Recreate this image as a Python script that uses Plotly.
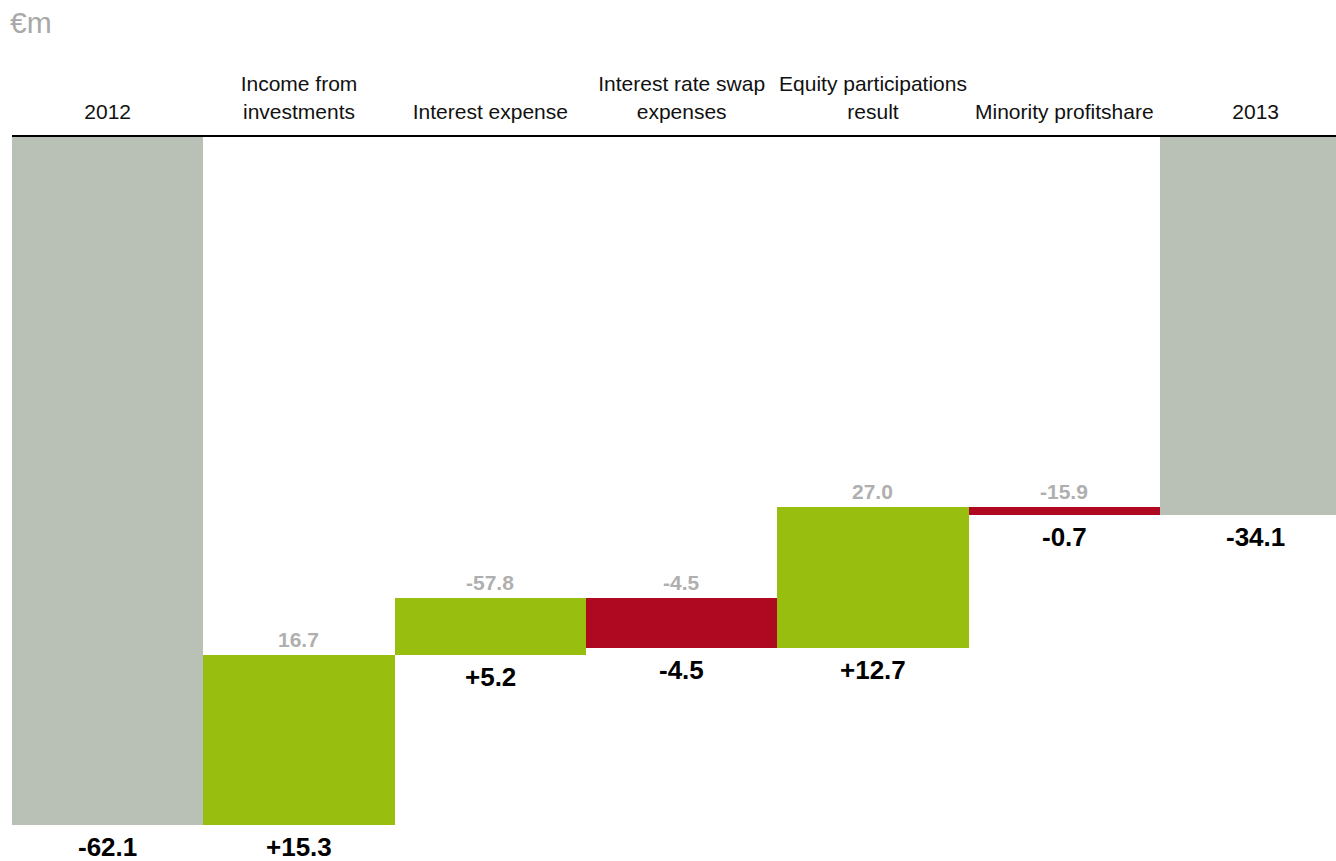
import plotly.graph_objects as go

# Waterfall of the financial result, 2012 -> 2013 (EUR million)
categories = [
    "2012",
    "Income from<br>investments",
    "Interest expense",
    "Interest rate swap<br>expenses",
    "Equity participations<br>result",
    "Minority profitshare",
    "2013",
]
kinds = ["total", "delta", "delta", "delta", "delta", "delta", "total"]
values = [-62.1, 15.3, 5.2, -4.5, 12.7, -0.7, -34.1]
value_labels = ["-62.1", "+15.3", "+5.2", "-4.5", "+12.7", "-0.7", "-34.1"]
# comparative figures shown in grey above the change bars
prior_values = [None, 16.7, -57.8, -4.5, 27.0, -15.9, None]

GREY = "#B9C1B6"
GREEN = "#98BF0F"
RED = "#AF0921"
FONT = "Liberation Sans, Arial, sans-serif"

# running bases for the floating bars
bases, heights, colors = [], [], []
running = 0.0
for kind, v in zip(kinds, values):
    if kind == "total":
        bases.append(0.0)
        heights.append(v)
        colors.append(GREY)
        running = v
    else:
        bases.append(running)
        heights.append(v)
        colors.append(GREEN if v > 0 else RED)
        running = running + v

x_idx = list(range(len(categories)))

fig = go.Figure(
    go.Bar(
        x=x_idx,
        y=heights,
        base=bases,
        width=1.0,
        marker=dict(color=colors, line=dict(width=0)),
        hoverinfo="skip",
    )
)

annotations = []
for i, (b, h, lab, pv) in enumerate(zip(bases, heights, value_labels, prior_values)):
    bottom = min(b, b + h)
    top = max(b, b + h)
    annotations.append(dict(
        x=i, y=bottom, xref="x", yref="y", text=f"<b>{lab}</b>",
        showarrow=False, yanchor="top", yshift=-5,
        font=dict(family=FONT, size=26, color="#000000"),
    ))
    if pv is not None:
        annotations.append(dict(
            x=i, y=top, xref="x", yref="y", text=f"<b>{pv:.1f}</b>",
            showarrow=False, yanchor="bottom", yshift=2,
            font=dict(family=FONT, size=21, color="#AFAFAF"),
        ))

annotations.append(dict(
    x=0, y=1, xref="paper", yref="paper", text="€m", showarrow=False,
    xanchor="left", yanchor="middle", xshift=-4, yshift=115,
    font=dict(family=FONT, size=30, color="#A8A8A8"),
))

fig.update_layout(
    width=1336,
    height=861,
    margin=dict(l=12, r=0, t=137, b=0),
    paper_bgcolor="white",
    plot_bgcolor="white",
    showlegend=False,
    bargap=0,
    annotations=annotations,
    font=dict(family=FONT, color="#111111"),
    xaxis=dict(
        side="top",
        tickmode="array",
        tickvals=x_idx,
        ticktext=categories,
        range=[-0.5, 6.42],
        showline=True,
        linecolor="#000000",
        linewidth=2,
        ticks="",
        ticklabelstandoff=8,
        showgrid=False,
        zeroline=False,
        tickfont=dict(size=21, color="#111111"),
        fixedrange=True,
    ),
    yaxis=dict(
        range=[-65.35, 0],
        showticklabels=False,
        showgrid=False,
        zeroline=False,
        showline=False,
        ticks="",
        fixedrange=True,
    ),
)

fig.write_html("out.html", config={"displayModeBar": False})
